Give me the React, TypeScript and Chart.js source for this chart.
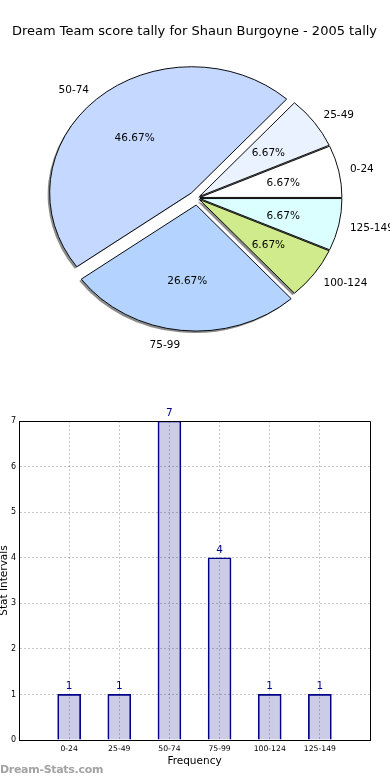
import React, { useEffect, useRef } from 'react';
import { Chart, registerables } from 'chart.js';

Chart.register(...registerables);

// ---- data ----
const chartTitle = 'Dream Team score tally for Shaun Burgoyne - 2005 tally';
const categories = ['0-24', '25-49', '50-74', '75-99', '100-124', '125-149'];
const counts = [1, 1, 7, 4, 1, 1];
const yTickValues = [0, 1, 2, 3, 4, 5, 6, 7];
const xAxisTitle = 'Frequency';
const yAxisTitle = 'Stat Intervals';
const watermark = 'Dream-Stats.com';

// ---- style ----
const sliceColors = ['#ffffff', '#ebf2ff', '#c5d8ff', '#b4d4ff', '#cfeb8b', '#dbffff'];
const explodePx = [3, 3, 8, 8, 3, 3];
const FONT = "'DejaVu Sans', sans-serif";
const PIE_RADIUS = 142;
const SQUASH_Y = 126 / 142;

const rev = <T,>(a: T[]): T[] => [...a].reverse();

function squash(ctx: CanvasRenderingContext2D, cx: number, cy: number) {
  ctx.translate(cx, cy);
  ctx.scale(1, SQUASH_Y);
  ctx.translate(-cx, -cy);
}

function center(chart: any) {
  const { left, right, top, bottom } = chart.chartArea;
  return { cx: (left + right) / 2, cy: (top + bottom) / 2 };
}

const piePlugin = {
  id: 'pieStyle',
  afterUpdate(chart: any) {
    const meta = chart.getDatasetMeta(0);
    const { cx, cy } = center(chart);
    const ex = rev(explodePx);
    meta.data.forEach((arc: any, i: number) => {
      const mid = (arc.startAngle + arc.endAngle) / 2;
      arc.x = cx + Math.cos(mid) * ex[i];
      arc.y = cy + Math.sin(mid) * ex[i];
    });
  },
  beforeDatasetsDraw(chart: any) {
    const ctx: CanvasRenderingContext2D = chart.ctx;
    const meta = chart.getDatasetMeta(0);
    const { cx, cy } = center(chart);
    // shadow pass (fills only)
    ctx.save();
    squash(ctx, cx, cy);
    ctx.shadowColor = 'rgba(0,0,0,0.45)';
    ctx.shadowOffsetX = -2;
    ctx.shadowOffsetY = 2;
    ctx.shadowBlur = 0.5;
    meta.data.forEach((arc: any) => {
      const orig = arc.options;
      arc.options = new Proxy({}, { get: (_t, p) => (p === 'borderWidth' ? 0 : orig[p as any]) });
      arc.draw(ctx);
      arc.options = orig;
    });
    ctx.restore();
    ctx.save();
    squash(ctx, cx, cy);
  },
  afterDatasetsDraw(chart: any) {
    chart.ctx.restore();
  },
  afterDraw(chart: any) {
    const ctx: CanvasRenderingContext2D = chart.ctx;
    const meta = chart.getDatasetMeta(0);
    const { cx, cy } = center(chart);
    const labels = rev(categories);
    const vals = rev(counts);
    const total = counts.reduce((a, b) => a + b, 0);
    ctx.save();
    ctx.fillStyle = '#000';
    ctx.font = `10.5px ${FONT}`;
    ctx.textBaseline = 'middle';
    meta.data.forEach((arc: any, i: number) => {
      const mid = (arc.startAngle + arc.endAngle) / 2;
      const r = arc.outerRadius;
      const ox = arc.x - cx;
      const oy = arc.y - cy;
      const lx = cx + ox + Math.cos(mid) * r * 1.08;
      const ly = cy + (oy + Math.sin(mid) * r * 1.11) * SQUASH_Y + 1;
      ctx.textAlign = Math.cos(mid) >= 0 ? 'left' : 'right';
      ctx.fillText(labels[i], lx, ly);
      const px = cx + ox + Math.cos(mid) * r * 0.6;
      const py = cy + (oy + Math.sin(mid) * r * 0.6) * SQUASH_Y + 1.5;
      ctx.textAlign = 'center';
      ctx.fillText(((vals[i] / total) * 100).toFixed(2) + '%', px, py);
    });
    ctx.font = `13px ${FONT}`;
    ctx.textAlign = 'center';
    ctx.textBaseline = 'alphabetic';
    ctx.fillText(chartTitle, 194.5, 34.5);
    ctx.restore();
  },
};

const barPlugin = {
  id: 'barExtras',
  afterDatasetsDraw(chart: any) {
    const ctx: CanvasRenderingContext2D = chart.ctx;
    const meta = chart.getDatasetMeta(0);
    ctx.save();
    ctx.font = `10.5px ${FONT}`;
    ctx.fillStyle = '#00008b';
    ctx.textAlign = 'center';
    ctx.textBaseline = 'alphabetic';
    meta.data.forEach((bar: any, i: number) => {
      ctx.fillText(String(counts[i]), bar.x, bar.y - 5);
    });
    ctx.restore();
  },
  afterDraw(chart: any) {
    const ctx: CanvasRenderingContext2D = chart.ctx;
    const { left, right, top, bottom } = chart.chartArea;
    ctx.save();
    ctx.strokeStyle = '#000';
    ctx.lineWidth = 1;
    ctx.beginPath();
    ctx.moveTo(left, top + 0.5);
    ctx.lineTo(right + 0.5, top + 0.5);
    ctx.lineTo(right + 0.5, bottom);
    ctx.stroke();
    ctx.restore();
  },
};

export default function App() {
  const pieRef = useRef<HTMLCanvasElement>(null);
  const barRef = useRef<HTMLCanvasElement>(null);

  useEffect(() => {
    const pie = new Chart(pieRef.current as HTMLCanvasElement, {
      type: 'pie',
      data: {
        labels: rev(categories),
        datasets: [
          {
            data: rev(counts),
            backgroundColor: rev(sliceColors),
            borderColor: '#000',
            borderWidth: 1,
            radius: PIE_RADIUS,
          } as any,
        ],
      },
      options: {
        responsive: false,
        maintainAspectRatio: false,
        animation: false,
        rotation: 90,
        events: [],
        layout: { padding: { left: 4, top: 6, right: 0, bottom: 0 } },
        plugins: { legend: { display: false }, tooltip: { enabled: false }, title: { display: false } },
      } as any,
      plugins: [piePlugin as any],
    });

    const gridCommon = { color: 'rgba(0,0,0,0.22)', lineWidth: 1, drawTicks: false, offset: false };
    const borderCommon = { display: true, color: '#000', width: 1, dash: [2, 2] };

    const bar = new Chart(barRef.current as HTMLCanvasElement, {
      type: 'bar',
      data: {
        datasets: [
          {
            data: counts.map((v, i) => ({ x: i + 1, y: v })),
            backgroundColor: 'rgba(0,0,128,0.2)',
            borderColor: '#00008b',
            borderWidth: 1,
            barThickness: 23,
          } as any,
        ],
      },
      options: {
        responsive: false,
        maintainAspectRatio: false,
        animation: false,
        events: [],
        layout: { padding: { left: 0, top: 31, right: 20, bottom: 0 } },
        plugins: { legend: { display: false }, tooltip: { enabled: false } },
        scales: {
          x: {
            type: 'linear',
            offset: false,
            min: 0,
            max: categories.length + 1,
            afterFit: (s: any) => {
              s.height = 40;
            },
            afterBuildTicks: (s: any) => {
              s.ticks = Array.from({ length: categories.length + 2 }, (_, i) => ({ value: i }));
            },
            ticks: {
              stepSize: 1,
              autoSkip: false,
              maxRotation: 0,
              padding: 4,
              color: '#000',
              font: { family: FONT, size: 7.7 },
              callback: (v: any) => categories[Number(v) - 1] ?? '',
            },
            grid: gridCommon,
            border: borderCommon,
            title: {
              display: true,
              text: xAxisTitle,
              color: '#000',
              font: { family: FONT, size: 10.5 },
              padding: { top: 0, bottom: 12.7 },
            },
          },
          y: {
            type: 'linear',
            min: yTickValues[0],
            max: yTickValues[yTickValues.length - 1],
            afterFit: (s: any) => {
              s.width = 19;
            },
            afterBuildTicks: (s: any) => {
              s.ticks = yTickValues.map((v) => ({ value: v }));
            },
            ticks: {
              stepSize: 1,
              padding: 3,
              color: '#000',
              font: { family: FONT, size: 8 },
            },
            grid: gridCommon,
            border: borderCommon,
            title: {
              display: true,
              text: yAxisTitle,
              color: '#000',
              font: { family: FONT, size: 10.5, lineHeight: 0.8 },
              padding: 0,
            },
          },
        },
      } as any,
      plugins: [barPlugin as any],
    });

    return () => {
      pie.destroy();
      bar.destroy();
    };
  }, []);

  return (
    <div style={{ position: 'absolute', left: 0, top: 0, width: 390, height: 780, background: '#fff', overflow: 'hidden' }}>
      <canvas ref={pieRef} width={390} height={390} style={{ position: 'absolute', left: 0, top: 0, width: 390, height: 390 }} />
      <canvas ref={barRef} width={390} height={390} style={{ position: 'absolute', left: 0, top: 390, width: 390, height: 390 }} />
      <div
        style={{
          position: 'absolute',
          left: 0,
          top: 763,
          fontFamily: FONT,
          fontSize: 11,
          lineHeight: '14px',
          color: '#a3a3a3',
          fontWeight: 700,
          letterSpacing: '-0.3px',
          whiteSpace: 'nowrap',
        }}
      >
        {watermark}
      </div>
    </div>
  );
}
